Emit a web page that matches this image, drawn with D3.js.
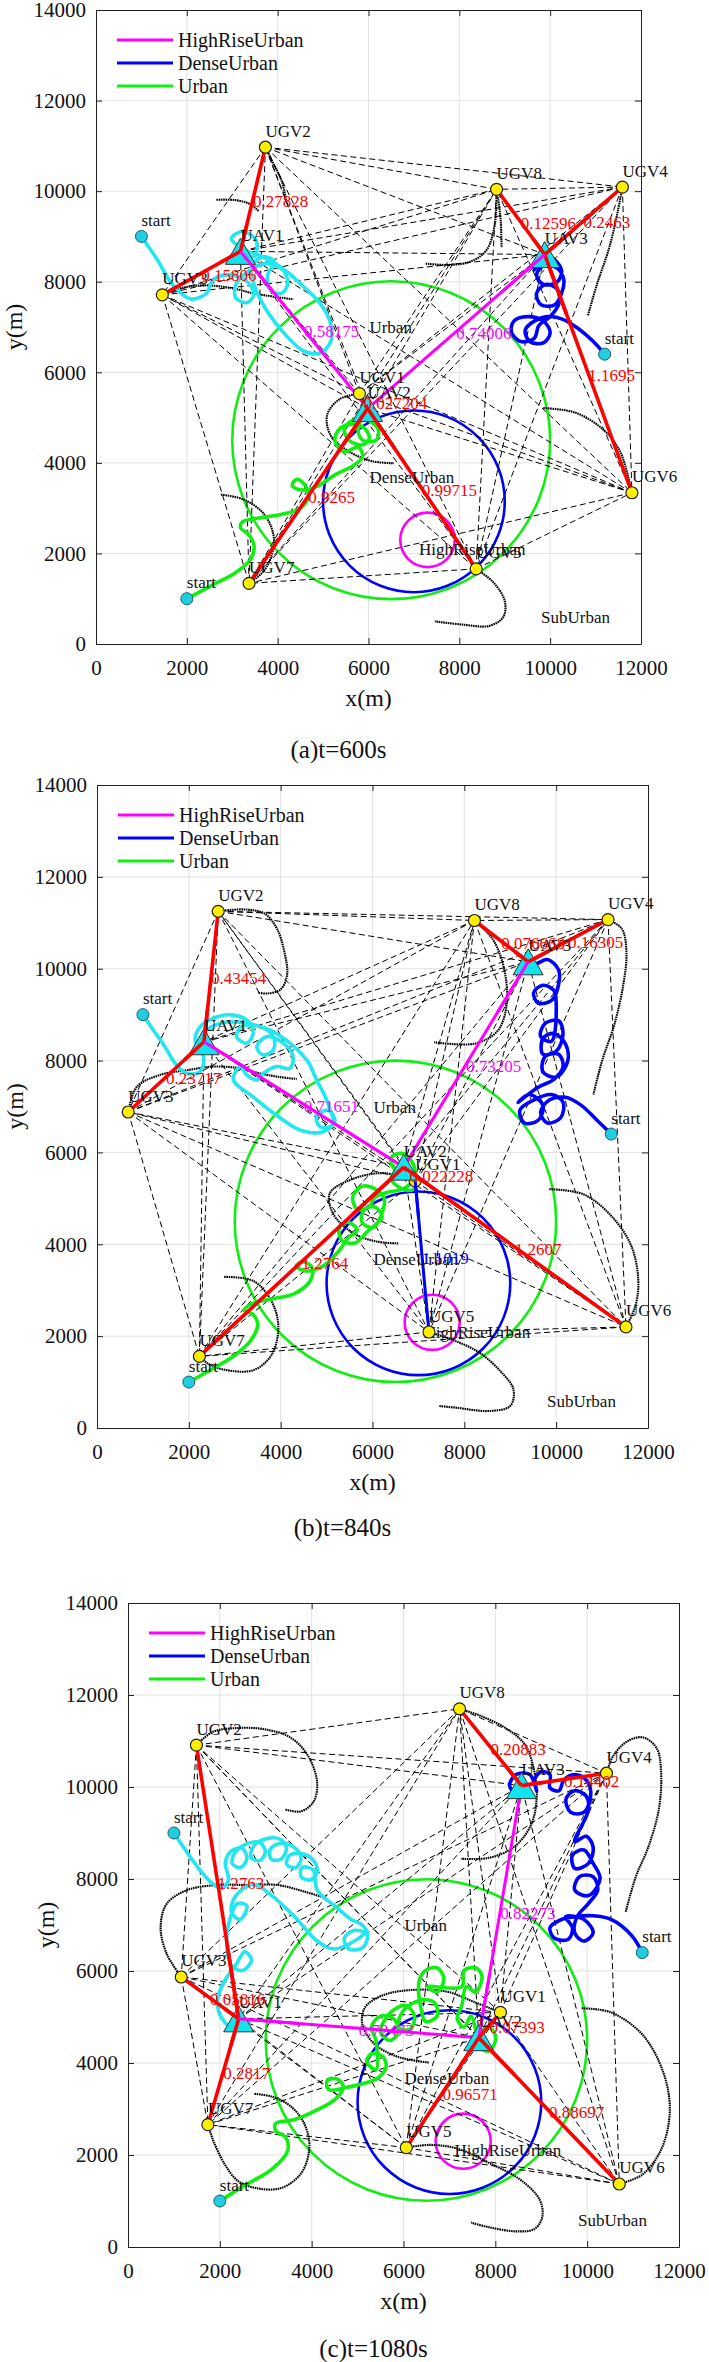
<!DOCTYPE html>
<html>
<head>
<meta charset="utf-8">
<script src="https://cdn.jsdelivr.net/npm/d3@7"></script>
<style>
body{margin:0;background:#fff;}
svg text{font-family:"Liberation Serif","Times New Roman",serif;}
</style>
</head>
<body>
<svg id="chart" width="709" height="2362"></svg>
<script>
// axis ticks
var xTicks = [0, 2000, 4000, 6000, 8000, 10000, 12000];
var yTicks = [0, 2000, 4000, 6000, 8000, 10000, 12000, 14000];
var captions = ["(a)t=600s", "(b)t=840s", "(c)t=1080s"];
var legendNames = ["HighRiseUrban", "DenseUrban", "Urban"];

// environment areas (same in all three panels)
var envNames = ["Urban", "DenseUrban", "HighRiseUrban"];
var envCX = [6500, 7000, 7300];
var envCY = [4500, 3150, 2300];
var envR = [3500, 2000, 600];
var envLabels = [["Urban", 6020, 6980], ["DenseUrban", 6020, 3670], ["HighRiseUrban", 7110, 2090], ["SubUrban", 9800, 580]];

// UAV start points
var startPts = [[1000, 9000], [2000, 1000], [11200, 6400]];

// node positions
var nodesA = [["UGV1",5800,5530],["UGV2",3730,10970],["UGV3",1460,7710],["UGV4",11590,10090],
  ["UGV5",8370,1660],["UGV6",11800,3340],["UGV7",3370,1340],["UGV8",8820,10040],
  ["UAV1",3180,8670],["UAV2",5980,5200],["UAV3",9880,8600]];
var nodesB = [["UGV1",6930,5380],["UGV2",2640,11250],["UGV3",680,6880],["UGV4",11130,11070],
  ["UGV5",7230,2090],["UGV6",11520,2200],["UGV7",2230,1560],["UGV8",8220,11050],
  ["UAV1",2330,8410],["UAV2",6680,5680],["UAV3",9390,10150]];
var nodesC = [["UGV1",8110,5100],["UGV2",1490,10910],["UGV3",1160,5870],["UGV4",10420,10300],
  ["UGV5",6060,2160],["UGV6",10700,1370],["UGV7",1740,2660],["UGV8",7220,11700],
  ["UAV1",2410,4960],["UAV2",7640,4550],["UAV3",8570,10030]];

// links: from, to, environment, value
var linksA = [["UAV1","UGV2","SubUrban","0.27828"],["UAV1","UGV3","SubUrban","0.15806"],
  ["UAV1","UAV2","HighRiseUrban","0.58175"],["UAV3","UGV8","SubUrban","0.12596"],
  ["UAV3","UGV4","SubUrban","0.2463"],["UAV3","UGV6","SubUrban","1.1695"],
  ["UAV3","UAV2","HighRiseUrban","0.74006"],["UAV2","UGV1","SubUrban","0.027204"],
  ["UAV2","UGV7","SubUrban","0.9265"],["UAV2","UGV5","SubUrban","0.99715"]];
var linksB = [["UAV1","UGV2","SubUrban","0.43454"],["UAV1","UGV3","SubUrban","0.23717"],
  ["UAV1","UAV2","HighRiseUrban","0.71651"],["UAV3","UGV8","SubUrban","0.076668"],
  ["UAV3","UGV4","SubUrban","0.16305"],["UAV3","UAV2","HighRiseUrban","0.73205"],
  ["UAV2","UGV1","SubUrban","0.022228"],["UAV2","UGV6","SubUrban","1.2607"],
  ["UAV2","UGV7","SubUrban","1.2764"],["UGV1","UGV5","DenseUrban","1.1019"]];
var linksC = [["UAV1","UGV2","SubUrban","1.2763"],["UAV1","UGV3","SubUrban","0.05816"],
  ["UAV1","UGV7","SubUrban","0.2817"],["UAV1","UAV2","HighRiseUrban","0.72473"],
  ["UAV2","UAV3","HighRiseUrban","0.82273"],["UAV2","UGV1","SubUrban","0.07393"],
  ["UAV2","UGV5","SubUrban","0.96571"],["UAV2","UGV6","SubUrban","0.88697"],
  ["UAV3","UGV8","SubUrban","0.20883"],["UAV3","UGV4","SubUrban","0.14402"]];

// UAV tracks
var uav1TrackA = [[1000,9000],[1340,8500],[1680,7940],[2080,7620],[2430,7740],[2580,8040],[2880,8150],[3280,8040],[3480,7740],[3330,7540],[3080,7640],[3080,7940],[3380,8250],[3780,8400],[4120,8250],[4220,7940],[4070,7740],[3820,7840],[3780,8150],[3920,8450],[3680,8550],[3430,8350],[3480,7940],[3780,7330],[4170,6830],[4570,6470],[4920,6420],[5170,6680],[5150,7130],[4920,7540],[4570,7890],[4170,8250],[3680,8550],[3280,8700],[2980,8950],[3230,9110],[3530,8900],[3480,8550],[3180,8670]];
var uav2TrackA = [[2000,1000],[2580,1310],[3080,1580],[3410,1880],[3480,2170],[3360,2420],[3180,2570],[3230,2700],[3580,2780],[4070,2860],[4470,2980],[4670,3230],[4620,3480],[4420,3640],[4320,3500],[4520,3400],[4870,3480],[5270,3740],[5670,3940],[5870,4140],[5770,4350],[5470,4240],[5270,4450],[5320,4700],[5570,4850],[5870,4800],[6020,4550],[5870,4400],[5570,4500],[5470,4750],[5670,4950],[5970,4950],[6210,4750],[6170,4500],[5870,4500],[5770,4750],[5980,5200]];
var uav3TrackA = [[11200,6400],[10950,6680],[10600,6980],[10250,7180],[9950,7230],[9650,7130],[9450,6930],[9550,6680],[9850,6650],[10000,6880],[9850,7130],[9500,7230],[9200,7130],[9150,6880],[9350,6680],[9650,6750],[9750,7030],[10000,7230],[10200,7540],[10150,7840],[9900,7940],[9700,7740],[9800,7490],[10100,7490],[10250,7740],[10300,8040],[10150,8300],[9850,8350],[9700,8150],[9850,7940],[10150,7990],[10250,8250],[10000,8550],[9750,8500],[9650,8250],[9880,8600]];

var uav1TrackB = [[1000,9000],[1230,8660],[1480,8300],[1700,7940],[1960,7720],[2250,7760],[2320,8080],[2140,8450],[2250,8740],[2610,8950],[2970,8990],[3300,8850],[3400,8590],[3260,8380],[3040,8520],[3150,8740],[3550,8740],[3840,8520],[3840,8230],[3620,8120],[3480,8300],[3700,8520],[4060,8380],[4270,8080],[4200,7830],[3910,7870],[3620,7720],[3480,7580],[3260,7690],[3120,7870],[2970,7580],[3400,7210],[3910,6810],[4420,6490],[4930,6450],[5180,6670],[5040,6920],[4780,6780],[4860,6560],[5140,6600],[5000,7140],[4780,7580],[4570,8010],[3910,8590],[3260,8810],[2680,8810],[2320,8590],[2330,8410]];
var uav2TrackB = [[2000,1000],[2520,1290],[3010,1590],[3360,1920],[3500,2260],[3390,2480],[3210,2560],[3360,2700],[3800,2810],[4290,2920],[4640,3200],[4690,3480],[4490,3620],[4340,3530],[4540,3420],[4930,3530],[5280,3870],[5470,4140],[5670,4310],[5470,4480],[5280,4370],[5330,4090],[5620,4030],[5870,4260],[6060,4420],[6210,4590],[6060,4810],[5820,4760],[5770,4480],[6020,4370],[6260,4980],[6060,5200],[5770,5260],[5570,5030],[5670,4760],[5920,4810],[6060,5030],[6360,5140],[6660,5200],[6850,5370],[6800,5590],[6560,5640],[6410,5420],[6660,5200],[6900,5200],[6950,5480],[6850,5810],[6640,5980],[6410,5890],[6460,5670],[6680,5680]];
var uav3TrackB = [[11200,6400],[10890,6700],[10540,7030],[10200,7200],[9850,7140],[9660,6870],[9810,6640],[10100,6760],[10150,7090],[9900,7260],[9510,7140],[9210,6920],[9310,6640],[9610,6700],[9710,7030],[9410,7260],[9170,7090],[9610,7420],[9950,7590],[10150,7870],[10050,8140],[9760,8090],[9710,7760],[10000,7640],[10250,7980],[10200,8370],[9950,8590],[9710,8480],[9710,8140],[10000,8200],[10150,8590],[10050,8870],[9760,8810],[9660,8530],[9900,8420],[10000,9250],[9950,9530],[9710,9640],[9510,9480],[9610,9250],[9900,9310],[10050,9640],[10050,9980],[9810,10200],[9560,10110],[9390,10150]];

var uav1TrackC = [[1000,9000],[1250,8630],[1540,8230],[1830,7910],[2050,7800],[2190,7980],[2120,8340],[2230,8590],[2480,8670],[2590,8450],[2450,8250],[2270,8340],[2340,8590],[2630,8780],[2880,8790],[2990,8590],[2870,8400],[2680,8470],[2740,8720],[3030,8880],[3320,8860],[3450,8670],[3330,8430],[3120,8430],[3100,8650],[3350,8780],[3640,8670],[3770,8450],[3660,8250],[3460,8310],[3520,8520],[3830,8540],[4060,8380],[4120,8140],[3970,7980],[3770,8050],[3790,8250],[4030,8200],[4120,7760],[4510,7410],[4860,7120],[5100,7000],[5220,6770],[5100,6500],[4810,6480],[4710,6710],[4910,6880],[5150,6830],[4510,6480],[4120,6650],[3630,7180],[3130,7640],[2740,7880],[2350,7640],[2250,7290],[2440,7120],[2590,7410],[2390,7470],[2200,7060],[2150,6590],[2250,6130],[2490,6010],[2690,6240],[2540,6420],[2350,6130],[2100,5780],[1950,5370],[2050,4960],[2350,4730],[2640,4900],[2410,4960]];
var uav2TrackC = [[2000,1000],[2540,1340],[3130,1690],[3480,2100],[3430,2390],[3230,2510],[3210,2680],[3630,2770],[4120,2980],[4510,3210],[4690,3470],[4560,3650],[4340,3620],[4370,3420],[4760,3470],[5150,3560],[5450,3680],[5620,3910],[5550,4140],[5300,4200],[5200,4030],[5400,3850],[5400,4490],[5300,4780],[5500,5020],[5790,4960],[5890,4670],[5700,4490],[5500,4670],[5700,5080],[6040,5250],[6240,5020],[6140,4730],[5890,4780],[5990,5130],[6380,5370],[6680,5310],[6730,5020],[6480,4900],[6380,5190],[6340,5780],[6480,6010],[6730,6070],[6880,5830],[6730,5540],[6530,5660],[7270,5660],[7320,6010],[7570,6070],[7710,5890],[7570,5540],[7370,5660],[7270,5250],[7170,4960],[7320,4780],[7470,5020],[7570,4730],[7620,4380],[7860,4260],[8010,4550],[7860,4780],[7670,4670],[7640,4550]];
var uav3TrackC = [[11200,6400],[10970,6770],[10520,7120],[10130,7200],[9730,7180],[9440,7120],[9190,6940],[9290,6710],[9590,6690],[9680,6940],[9530,7180],[9930,7120],[10130,6830],[9930,6650],[9730,6830],[9780,7180],[10030,7470],[10230,7760],[10130,8050],[9830,8050],[9730,7760],[10030,7640],[10280,8010],[10130,8340],[9930,8630],[9680,8520],[9730,8230],[10030,8340],[10130,8690],[9980,8930],[9730,8810],[10030,9510],[9980,9800],[9730,9920],[9540,9740],[9640,9450],[9930,9450],[10080,9860],[9980,10150],[9730,10270],[9490,10150],[9390,9920],[9190,9980],[9190,10270],[9000,10330],[8850,10150],[8900,9920],[8750,10270],[8450,10270],[8310,10030],[8450,9860],[8570,10030]];

// UGV tracks
var ugvTracksA = [
  [[3730,10970],[3920,10580],[4090,10220],[4190,9770]],
  [[2650,9810],[3080,9800],[3380,9720],[3580,9560]],
  [[1460,7710],[1880,7860],[2380,7920],[2980,7860],[3480,7740],[4350,7610]],
  [[7260,8400],[7760,8370],[8260,8450],[8600,8700],[8780,9260],[8820,10040]],
  [[8850,9870],[8910,9360],[8930,8750]],
  [[11590,10090],[11490,9560],[11300,8750],[11030,7940],[10830,7250]],
  [[5800,5530],[5370,5410],[5090,5060],[5170,4600],[5570,4250],[6070,4040],[6560,3990]],
  [[9850,5210],[10550,5110],[11150,4750],[11540,4250],[11800,3340]],
  [[8370,1660],[8750,1360],[9000,950],[8970,600],[8660,400],[8060,430],[7460,500]],
  [[2750,3300],[3280,3180],[3730,2830],[3920,2270],[3730,1660],[3370,1340]]
];
var ugvTracksB = [
  [[2640,11250],[3210,11290],[3650,11200],[3920,10870],[4080,10370],[4140,9870],[4000,9550],[3700,9460],[3500,9480]],
  [[680,6880],[870,7430],[1380,7690],[1960,7790],[2530,7870],[3120,7830],[3550,7720],[3990,7640],[4350,7600]],
  [[8220,11050],[8620,10640],[8870,9980],[8920,9200],[8720,8640],[8230,8370],[7340,8400]],
  [[11130,11070],[11430,10870],[11530,10370],[11460,9640],[11260,8760],[11010,8030],[10810,7260]],
  [[9850,5200],[10590,5090],[11180,4640],[11630,3980],[11790,3200],[11720,2640],[11520,2200]],
  [[6930,5380],[6230,5550],[5510,5400],[5070,5110],[5140,4670],[5580,4240],[6090,4060],[6560,4020]],
  [[7230,2090],[7740,1920],[8330,1640],[8820,1200],[9070,840],[9000,480],[8530,370],[7840,440],[7440,480]],
  [[2770,3290],[3410,3200],[3800,2760],[3950,2200],[3800,1590],[3410,1260],[2820,1260],[2420,1400],[2230,1560]]
];
var ugvTracksC = [
  [[7220,11700],[7670,11550],[8260,11260],[8650,10910],[8850,10330],[8900,9740],[8770,9160],[8400,8690],[7860,8460],[7250,8440]],
  [[1490,10910],[1850,11200],[2350,11280],[2940,11260],[3530,11080],[3920,10680],[4120,10090],[4040,9680],[3770,9470],[3430,9510]],
  [[1160,5870],[840,6380],[710,6960],[850,7470],[1290,7760],[1940,7870],[2590,7870],[3250,7870],[3830,7730],[4260,7600]],
  [[8110,5100],[7530,5330],[6950,5550],[6220,5590],[5570,5480],[5170,5220],[5100,4860],[5350,4430],[5860,4140],[6550,4010]],
  [[9880,5190],[10520,5100],[11210,4610],[11660,3790],[11800,2980],[11630,2160],[11210,1580],[10700,1370]],
  [[10420,10300],[10570,10680],[10870,10990],[11210,11080],[11510,10850],[11610,10330],[11560,9510],[11330,8690],[11060,8050],[10840,7290]],
  [[6060,2160],[6580,2220],[7170,2140],[7860,1830],[8550,1460],[8970,1020],[9020,640],[8850,390],[8450,340],[7860,430],[7470,530]],
  [[1740,2660],[1850,2330],[2100,1810],[2390,1440],[2790,1280],[3330,1280],[3770,1600],[3950,2160],[3840,2680],[3530,3070],[3130,3270],[2740,3330]]
];

var panels = [
  {nodes: nodesA, links: linksA, uav: [uav1TrackA, uav2TrackA, uav3TrackA], ugv: ugvTracksA},
  {nodes: nodesB, links: linksB, uav: [uav1TrackB, uav2TrackB, uav3TrackB], ugv: ugvTracksB},
  {nodes: nodesC, links: linksC, uav: [uav1TrackC, uav2TrackC, uav3TrackC], ugv: ugvTracksC}
];

// pixel boxes of the three plots
var boxes = [
  {left: 96, right: 641, top: 10, bottom: 644, cap: 749},
  {left: 97, right: 648, top: 785, bottom: 1428, cap: 1527},
  {left: 128, right: 679, top: 1603, bottom: 2247, cap: 2348}
];

var envColor = d3.scaleOrdinal()
  .domain(["HighRiseUrban", "DenseUrban", "Urban", "SubUrban"])
  .range(["#ff00ff", "#0000ff", "#11ee11", "#ff0000"]);
var uavColor = d3.scaleOrdinal().domain([0, 1, 2]).range(["#22e6f0", "#11ee11", "#0000ff"]);

var svg = d3.select("#chart");

function drawPanel(p, box, caption) {
  var x = d3.scaleLinear().domain([0, 12000]).range([box.left, box.right]);
  var y = d3.scaleLinear().domain([0, 14000]).range([box.bottom, box.top]);
  var g = svg.append("g");
  var pos = {};
  p.nodes.forEach(function(n) { pos[n[0]] = [n[1], n[2]]; });

  // grid
  g.selectAll(".gx").data(xTicks.slice(1, -1)).enter().append("line")
    .attr("x1", function(d) { return x(d); }).attr("x2", function(d) { return x(d); })
    .attr("y1", box.top).attr("y2", box.bottom)
    .attr("stroke", "#e2e2e2").attr("stroke-width", 1);
  g.selectAll(".gy").data(yTicks.slice(1, -1)).enter().append("line")
    .attr("y1", function(d) { return y(d); }).attr("y2", function(d) { return y(d); })
    .attr("x1", box.left).attr("x2", box.right)
    .attr("stroke", "#e2e2e2").attr("stroke-width", 1);

  // environment circles
  g.selectAll(".env").data(envNames).enter().append("circle")
    .attr("cx", function(d, i) { return x(envCX[i]); })
    .attr("cy", function(d, i) { return y(envCY[i]); })
    .attr("r", function(d, i) { return x(envR[i]) - x(0); })
    .attr("fill", "none").attr("stroke", function(d) { return envColor(d); })
    .attr("stroke-width", 2.6);

  // dashed links between every pair of vehicles
  var pairs = [];
  p.nodes.forEach(function(a, i) {
    p.nodes.forEach(function(b, j) { if (j > i) pairs.push([a, b]); });
  });
  g.selectAll(".pair").data(pairs).enter().append("line")
    .attr("x1", function(d) { return x(d[0][1]); }).attr("y1", function(d) { return y(d[0][2]); })
    .attr("x2", function(d) { return x(d[1][1]); }).attr("y2", function(d) { return y(d[1][2]); })
    .attr("stroke", "#000").attr("stroke-width", 1).attr("stroke-dasharray", "6,3.5");

  var line = d3.line().x(function(d) { return x(d[0]); }).y(function(d) { return y(d[1]); })
    .curve(d3.curveCatmullRom.alpha(0.5));

  // UGV tracks (dotted)
  g.selectAll(".ugvt").data(p.ugv).enter().append("path")
    .attr("d", line).attr("fill", "none").attr("stroke", "#000")
    .attr("stroke-width", 2.1).attr("stroke-dasharray", "1.6,0.7");

  // UAV tracks
  g.selectAll(".uavt").data(p.uav).enter().append("path")
    .attr("d", line).attr("fill", "none")
    .attr("stroke", function(d, i) { return uavColor(i); })
    .attr("stroke-width", 3.6).attr("stroke-linejoin", "round");

  // active links
  g.selectAll(".lnk").data(p.links).enter().append("line")
    .attr("x1", function(d) { return x(pos[d[0]][0]); }).attr("y1", function(d) { return y(pos[d[0]][1]); })
    .attr("x2", function(d) { return x(pos[d[1]][0]); }).attr("y2", function(d) { return y(pos[d[1]][1]); })
    .attr("stroke", function(d) { return envColor(d[2]); })
    .attr("stroke-width", function(d) { return d[2] == "SubUrban" ? 3.6 : 3; });

  // environment labels
  g.selectAll(".envl").data(envLabels).enter().append("text")
    .attr("x", function(d) { return x(d[1]); }).attr("y", function(d) { return y(d[2]); })
    .attr("dominant-baseline", "central").style("font-size", "17px").attr("fill", "#111")
    .text(function(d) { return d[0]; });

  // start points
  g.selectAll(".st").data(startPts).enter().append("circle")
    .attr("cx", function(d) { return x(d[0]); }).attr("cy", function(d) { return y(d[1]); })
    .attr("r", 6).attr("fill", "#22cde0").attr("stroke", "#1b5f70").attr("stroke-width", 1);
  g.selectAll(".stl").data(startPts).enter().append("text")
    .attr("x", function(d) { return x(d[0]); }).attr("y", function(d) { return y(d[1]) - 16; })
    .attr("dominant-baseline", "central").style("font-size", "17px").attr("fill", "#111")
    .text("start");

  // vehicles
  var ugvs = p.nodes.filter(function(n) { return n[0].indexOf("UGV") == 0; });
  var uavs = p.nodes.filter(function(n) { return n[0].indexOf("UAV") == 0; });
  g.selectAll(".ugv").data(ugvs).enter().append("circle")
    .attr("cx", function(d) { return x(d[1]); }).attr("cy", function(d) { return y(d[2]); })
    .attr("r", 6).attr("fill", "#ffee00").attr("stroke", "#222").attr("stroke-width", 1.2);
  g.selectAll(".uav").data(uavs).enter().append("path")
    .attr("transform", function(d) { return "translate(" + x(d[1]) + "," + y(d[2]) + ")"; })
    .attr("d", "M0,-13L15,13L-15,13Z")
    .attr("fill", "#11e4ee").attr("stroke", "#333").attr("stroke-width", 1);
  // the active links meet on top of the triangles
  g.selectAll(".lnk2").data(p.links).enter().append("line")
    .attr("x1", function(d) { return x(pos[d[0]][0]); }).attr("y1", function(d) { return y(pos[d[0]][1]); })
    .attr("x2", function(d) { return (x(pos[d[0]][0]) * 3 + x(pos[d[1]][0])) / 4; })
    .attr("y2", function(d) { return (y(pos[d[0]][1]) * 3 + y(pos[d[1]][1])) / 4; })
    .attr("stroke", function(d) { return envColor(d[2]); })
    .attr("stroke-width", function(d) { return d[2] == "SubUrban" ? 3.6 : 3; });

  g.selectAll(".nl").data(p.nodes).enter().append("text")
    .attr("x", function(d) { return x(d[1]); }).attr("y", function(d) { return y(d[2]) - 16; })
    .attr("dominant-baseline", "central").style("font-size", "17px").attr("fill", "#111")
    .text(function(d) { return d[0]; });

  // link values at midpoints
  g.selectAll(".lv").data(p.links).enter().append("text")
    .attr("x", function(d) { return (x(pos[d[0]][0]) + x(pos[d[1]][0])) / 2; })
    .attr("y", function(d) { return (y(pos[d[0]][1]) + y(pos[d[1]][1])) / 2 + 2; })
    .attr("dominant-baseline", "central").style("font-size", "17px")
    .attr("fill", function(d) { return envColor(d[2]); })
    .text(function(d) { return d[3]; });

  // legend
  var lg = g.append("g").attr("transform", "translate(" + (box.left + 21) + "," + (box.top + 30) + ")");
  legendNames.forEach(function(name, i) {
    lg.append("line").attr("x1", 0).attr("x2", 56).attr("y1", i * 23).attr("y2", i * 23)
      .attr("stroke", envColor(name)).attr("stroke-width", 3);
    lg.append("text").attr("x", 61).attr("y", i * 23).attr("dominant-baseline", "central")
      .style("font-size", "20px").attr("fill", "#111").text(name);
  });

  // axes
  var fmt = d3.format("d");
  var ax = g.append("g").attr("transform", "translate(0," + box.bottom + ")")
    .call(d3.axisBottom(x).tickValues(xTicks).tickSize(-6).tickSizeOuter(0).tickPadding(16).tickFormat(fmt));
  var ay = g.append("g").attr("transform", "translate(" + box.left + ",0)")
    .call(d3.axisLeft(y).tickValues(yTicks).tickSize(-6).tickSizeOuter(0).tickPadding(10).tickFormat(fmt));
  g.append("g").attr("transform", "translate(0," + box.top + ")")
    .call(d3.axisTop(x).tickValues(xTicks).tickSize(-6).tickSizeOuter(0).tickFormat(""));
  g.append("g").attr("transform", "translate(" + box.right + ",0)")
    .call(d3.axisRight(y).tickValues(yTicks).tickSize(-6).tickSizeOuter(0).tickFormat(""));
  g.selectAll(".domain").attr("stroke", "#222");
  g.selectAll(".tick line").attr("stroke", "#222");
  [ax, ay].forEach(function(a) {
    a.attr("font-family", null).attr("font-size", null);
    a.selectAll("text").style("font-size", "21px").attr("fill", "#111");
  });

  var cx = (box.left + box.right) / 2;
  g.append("text").attr("x", cx).attr("y", box.bottom + 54).attr("text-anchor", "middle")
    .attr("dominant-baseline", "central").style("font-size", "24px").attr("fill", "#111").text("x(m)");
  g.append("text").attr("transform", "translate(" + (box.left - 82) + "," + ((box.top + box.bottom) / 2) + ") rotate(-90)")
    .attr("text-anchor", "middle").attr("dominant-baseline", "central")
    .style("font-size", "24px").attr("fill", "#111").text("y(m)");
  g.append("text").attr("x", cx - 30).attr("y", box.cap).attr("text-anchor", "middle")
    .attr("dominant-baseline", "central").style("font-size", "25px").attr("fill", "#111").text(caption);
}

panels.forEach(function(p, i) { drawPanel(p, boxes[i], captions[i]); });
</script>
</body>
</html>
